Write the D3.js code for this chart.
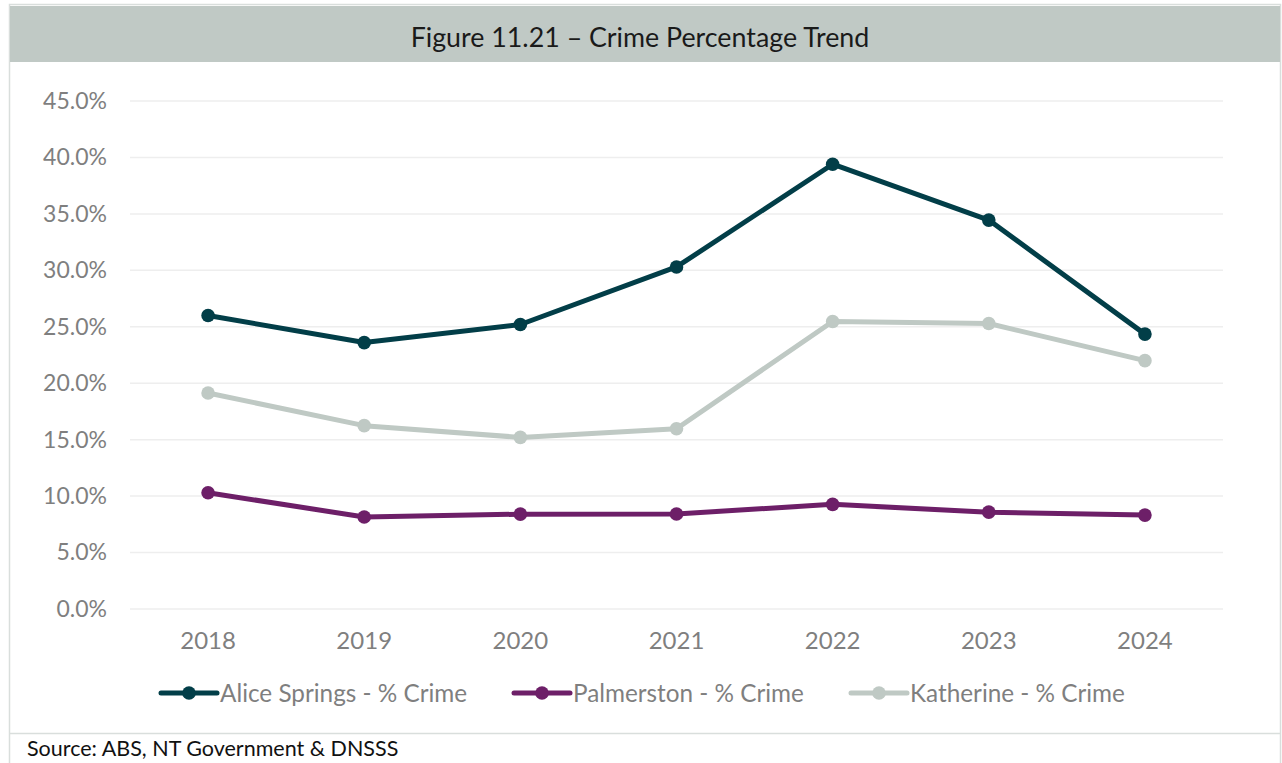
<!DOCTYPE html>
<html><head><meta charset="utf-8">
<script src="https://cdn.jsdelivr.net/npm/d3@7"></script>
<style>
html,body{margin:0;padding:0;background:#fff;}
svg{display:block;font-family:Lato, "Open Sans", sans-serif;}
</style></head>
<body><svg id="c" width="1282" height="763"></svg>
<script>
const years = ["2018","2019","2020","2021","2022","2023","2024"];
const aliceSprings = [26.0, 23.6, 25.2, 30.3, 39.4, 34.45, 24.35];
const palmerston  = [10.3, 8.15, 8.4, 8.42, 9.27, 8.58, 8.32];
const katherine   = [19.13, 16.24, 15.2, 15.97, 25.47, 25.29, 22.0];
const seriesNames = ["Alice Springs - % Crime","Palmerston - % Crime","Katherine - % Crime"];
const seriesColors = ["#023e48","#6d1f68","#bfc9c4"];
const yTicks = [0,5,10,15,20,25,30,35,40,45];
const title = "Figure 11.21 \u2013 Crime Percentage Trend";
const source = "Source: ABS, NT Government & DNSSS";

const svg = d3.select("#c");
// frame
svg.append("rect").attr("x",9.5).attr("y",4.5).attr("width",1271).attr("height",800)
  .attr("fill","none").attr("stroke","#d9dedc").attr("stroke-width",1.5);
svg.append("rect").attr("x",10).attr("y",6).attr("width",1270).attr("height",56).attr("fill","#c0c9c5");
svg.append("line").attr("x1",10).attr("x2",1281).attr("y1",733.5).attr("y2",733.5)
  .attr("stroke","#d9dedc").attr("stroke-width",1.5);
svg.append("text").attr("x",640).attr("y",47).attr("text-anchor","middle")
  .attr("font-size",26.8).attr("fill","#1a1a1a").text(title);
svg.append("text").attr("x",27).attr("y",756).attr("font-size",21.5).attr("fill","#111").text(source);

const x = d3.scaleBand().domain(years).range([130,1223]);
const y = d3.scaleLinear().domain([0,45]).range([609,101]);

// grid
svg.append("g").selectAll("line").data(yTicks).join("line")
  .attr("x1",130).attr("x2",1223).attr("y1",d=>y(d)).attr("y2",d=>y(d))
  .attr("stroke","#eeeeee").attr("stroke-width",1.5);

const yAxis = svg.append("g").attr("transform","translate(130,0)")
  .call(d3.axisLeft(y).tickValues(yTicks).tickSize(0).tickPadding(23).tickFormat(d=>d.toFixed(1)+"%"));
yAxis.select(".domain").remove();
yAxis.selectAll("text").attr("font-size",23).attr("fill","#7f7f7f").attr("font-family","Lato");

const xAxis = svg.append("g").attr("transform","translate(0,609)")
  .call(d3.axisBottom(x).tickSize(0).tickPadding(23));
xAxis.select(".domain").remove();
xAxis.selectAll("text").attr("font-size",24).attr("fill","#7f7f7f").attr("font-family","Lato");

const data = [aliceSprings, palmerston, katherine];
const cx = d => x(d) + x.bandwidth()/2;
const line = d3.line().x((d,i)=>cx(years[i])).y(d=>y(d));
const order = [2,1,0];
order.forEach(k=>{
  svg.append("path").datum(data[k]).attr("d",line).attr("fill","none")
    .attr("stroke",seriesColors[k]).attr("stroke-width",5).attr("stroke-linejoin","round").attr("stroke-linecap","round");
  svg.append("g").selectAll("circle").data(data[k]).join("circle")
    .attr("cx",(d,i)=>cx(years[i])).attr("cy",d=>y(d)).attr("r",6.8).attr("fill",seriesColors[k]);
});

// legend
const legX = [161, 514, 851];
seriesNames.forEach((n,k)=>{
  const g = svg.append("g").attr("transform",`translate(${legX[k]},693)`);
  g.append("line").attr("x1",0).attr("x2",56).attr("stroke",seriesColors[k]).attr("stroke-width",5).attr("stroke-linecap","round");
  g.append("circle").attr("cx",28).attr("r",6.8).attr("fill",seriesColors[k]);
  g.append("text").attr("x",59).attr("y",8.5).attr("font-size",24.3).attr("fill","#7f7f7f").text(n);
});
</script></body></html>
